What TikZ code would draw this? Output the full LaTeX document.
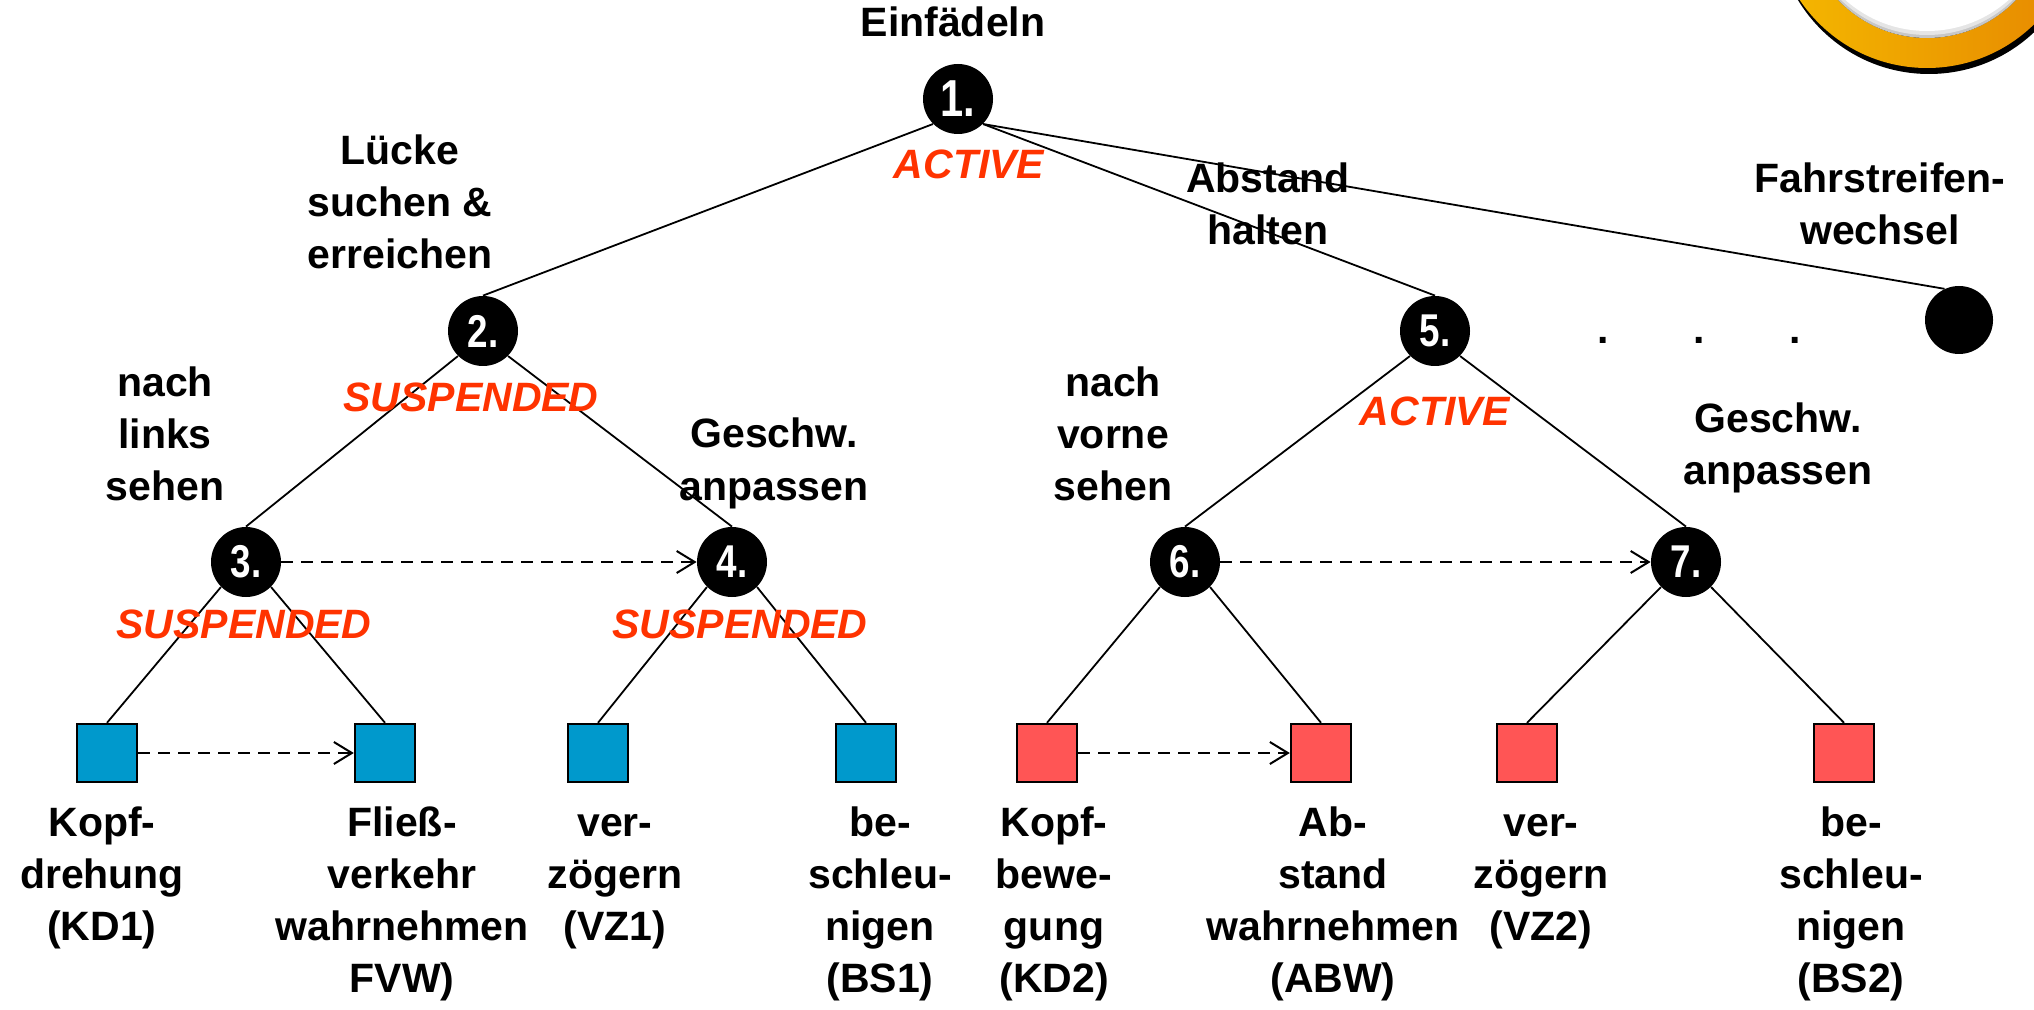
\documentclass[tikz,border=0pt]{standalone}
\usepackage{fontspec}
\setmainfont{Liberation Sans}
\usetikzlibrary{arrows.meta}
\definecolor{taskblue}{RGB}{0,153,204}
\definecolor{taskred}{RGB}{255,85,85}
\definecolor{statered}{RGB}{255,51,0}
\definecolor{ringyellow}{RGB}{245,185,0}
\definecolor{ringorange}{RGB}{230,135,0}
\newcommand\mlines[1]{\begin{tabular}[t]{@{}c@{}}#1\end{tabular}}
\newcommand\numtxt[2]{\scalebox{0.8}[1]{\fontsize{#1}{#1}\selectfont\bfseries #2}}
\begin{document}
\begin{tikzpicture}[x=0.5pt,y=-0.5pt,
  goal/.style={circle,fill=black,minimum size=35pt,inner sep=0pt,text=white},
  leafblue/.style={rectangle,draw=black,line width=1.2pt,fill=taskblue,minimum width=30pt,minimum height=29pt,inner sep=0pt},
  leafred/.style={rectangle,draw=black,line width=1.2pt,fill=taskred,minimum width=30pt,minimum height=29pt,inner sep=0pt},
  edge/.style={line width=0.9pt},
  seq/.style={line width=1pt,dash pattern=on 6pt off 4pt,-{Straight Barb[length=9pt,width=11pt,line width=1pt]}},
  lbl/.style={font=\fontsize{20.5}{26}\selectfont\bfseries,anchor=base,inner sep=0pt},
  statelbl/.style={font=\fontsize{20.5}{26}\selectfont\bfseries\itshape,text=statered,anchor=base,inner sep=0pt}
]
\useasboundingbox (0,0) rectangle (2034,1010);

% decorative ring (top right)
\begin{scope}
  \clip (0,0) rectangle (2034,1010);
  \fill[black] (1929,-79) circle[radius=76.5pt];
  \shade[left color=ringyellow,right color=ringorange,even odd rule]
    (1927,-85) circle[radius=76.5pt] (1927,-85) circle[radius=61.5pt];
  \fill[black!22] (1927,-85) circle[radius=61.5pt];
  \fill[black!10] (1927,-88) circle[radius=61.5pt];
  \fill[white] (1927,-92) circle[radius=61.5pt];
\end{scope}

% goal nodes
\node[goal] (n1) at (958,99) {\numtxt{26}{1.}};
\node[goal] (n2) at (483,331) {\numtxt{23}{2.}};
\node[goal] (n3) at (246,562) {\numtxt{23}{3.}};
\node[goal] (n4) at (732,562) {\numtxt{23}{4.}};
\node[goal] (n5) at (1435,331) {\numtxt{23}{5.}};
\node[goal] (n6) at (1185,562) {\numtxt{23}{6.}};
\node[goal] (n7) at (1686,562) {\numtxt{23}{7.}};
\node[goal,minimum size=34pt] (n8) at (1959,320) {};

% leaves
\node[leafblue] (b1) at (107,753) {};
\node[leafblue] (b2) at (385,753) {};
\node[leafblue] (b3) at (598,753) {};
\node[leafblue] (b4) at (866,753) {};
\node[leafred] (r1) at (1047,753) {};
\node[leafred] (r2) at (1321,753) {};
\node[leafred] (r3) at (1527,753) {};
\node[leafred] (r4) at (1844,753) {};

% tree edges
\draw[edge] (n1.south west) -- (n2.north);
\draw[edge] (n1.south east) -- (n5.north);
\draw[edge] (n1.south east) -- (n8.115);
\draw[edge] (n2.south west) -- (n3.north);
\draw[edge] (n2.south east) -- (n4.north);
\draw[edge] (n5.south west) -- (n6.north);
\draw[edge] (n5.south east) -- (n7.north);
\draw[edge] (n3.south west) -- (b1.north);
\draw[edge] (n3.south east) -- (b2.north);
\draw[edge] (n4.south west) -- (b3.north);
\draw[edge] (n4.south east) -- (b4.north);
\draw[edge] (n6.south west) -- (r1.north);
\draw[edge] (n6.south east) -- (r2.north);
\draw[edge] (n7.south west) -- (r3.north);
\draw[edge] (n7.south east) -- (r4.north);

% sequence arrows
\draw[seq] (n3) -- (n4);
\draw[seq] (b1) -- (b2);
\draw[seq] (n6) -- (n7);
\draw[seq] (r1) -- (r2);

% labels
\node[lbl] (tEin) at (953,37) {Einfädeln};
\node[lbl] (tLuecke) at (400,165) {\mlines{Lücke\\suchen \&\\erreichen}};
\node[lbl] (tLinks) at (165,397) {\mlines{nach\\links\\sehen}};
\node[lbl] (tGeschL) at (774,448) {\mlines{Geschw.\\anpassen}};
\node[lbl] (tVorne) at (1113,397) {\mlines{nach\\vorne\\sehen}};
\node[lbl] (tAbst) at (1268,193) {\mlines{Abstand\\halten}};
\node[lbl] (tFahr) at (1880,193) {\mlines{Fahrstreifen-\\wechsel}};
\node[lbl] (tGeschR) at (1778,432) {\mlines{Geschw.\\anpassen}};

\node[lbl] (tKD1) at (102,836) {\mlines{Kopf-\\drehung\\(KD1)}};
\node[lbl] (tFVW) at (402,836) {\mlines{Fließ-\\verkehr\\wahrnehmen\\FVW)}};
\node[lbl] (tVZ1) at (615,836) {\mlines{ver-\\zögern\\(VZ1)}};
\node[lbl] (tBS1) at (880,836) {\mlines{be-\\schleu-\\nigen\\(BS1)}};
\node[lbl] (tKD2) at (1054,836) {\mlines{Kopf-\\bewe-\\gung\\(KD2)}};
\node[lbl] (tABW) at (1333,836) {\mlines{Ab-\\stand\\wahrnehmen\\(ABW)}};
\node[lbl] (tVZ2) at (1541,836) {\mlines{ver-\\zögern\\(VZ2)}};
\node[lbl] (tBS2) at (1851,836) {\mlines{be-\\schleu-\\nigen\\(BS2)}};

\node[lbl] (d1) at (1603,344) {.};
\node[lbl] (d2) at (1699,344) {.};
\node[lbl] (d3) at (1795,344) {.};

% state labels
\node[statelbl] (sA1) at (969,179) {ACTIVE};
\node[statelbl] (sS2) at (471,412) {SUSPENDED};
\node[statelbl] (sS3) at (244,638) {SUSPENDED};
\node[statelbl] (sS4) at (740,638) {SUSPENDED};
\node[statelbl] (sA5) at (1435,425) {ACTIVE};
\end{tikzpicture}
\end{document}
